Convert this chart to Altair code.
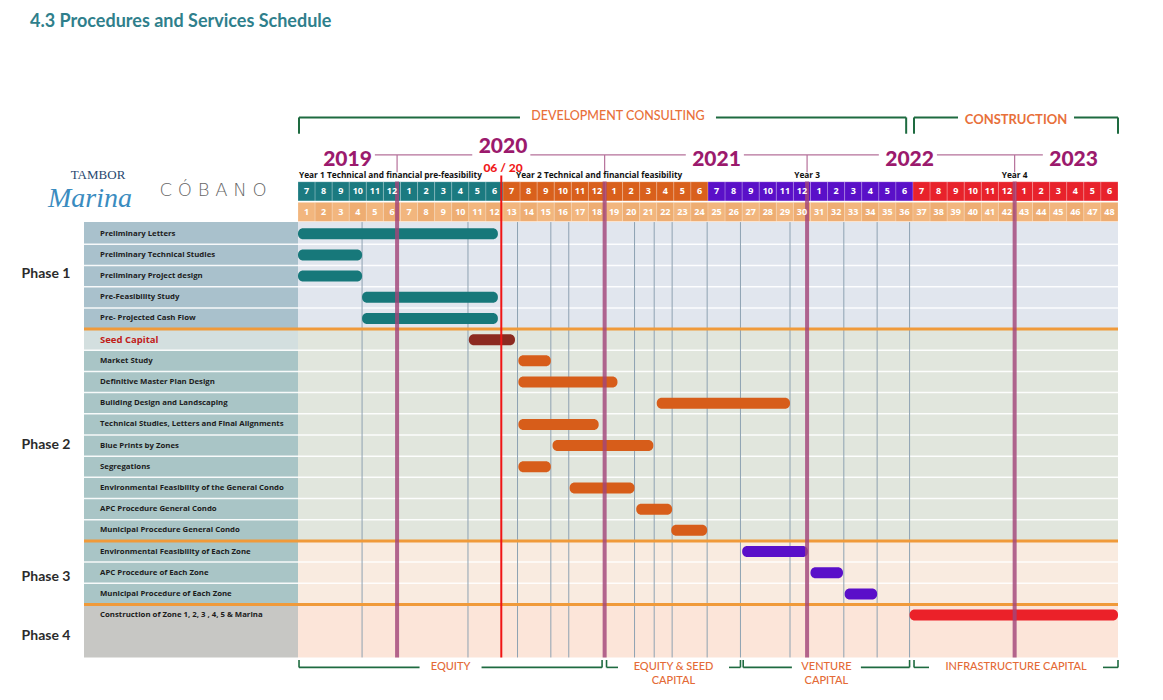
import altair as alt
import pandas as pd

# ---------------- data ----------------
title = "4.3 Procedures and Services Schedule"

tasks = ["Preliminary Letters", "Preliminary Technical Studies", "Preliminary Project design",
         "Pre-Feasibility Study", "Pre- Projected Cash Flow",
         "Seed Capital", "Market Study", "Definitive Master Plan Design",
         "Building Design and Landscaping", "Technical Studies, Letters and Final Alignments",
         "Blue Prints by Zones", "Segregations", "Environmental Feasibility of the General Condo",
         "APC Procedure General Condo", "Municipal Procedure General Condo",
         "Environmental Feasibility of Each Zone", "APC Procedure of Each Zone",
         "Municipal Procedure of Each Zone", "Construction of  Zone 1, 2, 3 , 4, 5 & Marina"]
task_group = ["p1"] * 5 + ["seed"] + ["p2"] * 9 + ["p3"] * 3 + ["p4"]
# month index: 0 = July 2019, 48 = end of June 2023
task_start = [0, 0, 0, 3.75, 3.75, 10, 12.9, 12.9, 21, 12.9, 14.9, 12.9, 15.9, 19.8, 21.85,
              26, 30, 32, 35.8]
task_end = [11.7, 3.75, 3.75, 11.7, 11.7, 12.7, 14.8, 18.7, 28.8, 17.6, 20.8, 14.8, 19.7, 21.9, 23.95,
            29.85, 31.9, 33.9, 48]

phases = ["Phase 1", "Phase 2", "Phase 3", "Phase 4"]

month_labels = [7, 8, 9, 10, 11, 12, 1, 2, 3, 4, 5, 6] * 4
month_numbers = list(range(1, 49))
period_of_month = ["y1"] * 12 + ["y2"] * 12 + ["y3"] * 12 + ["y4"] * 12

years = ["2019", "2020", "2021", "2022", "2023"]
year_label_pos = [2.9, 12.0, 24.5, 35.8, 45.4]
year_boundaries = [5.8, 17.95, 29.8, 41.95]
today_month = 11.9
today_label = "06 / 20"
grid_months = [3.75, 9.95, 12.85, 14.8, 15.85, 19.7, 20.85, 21.9, 23.95, 25.9, 28.8, 31.95, 33.9, 35.8]

subtitles = ["Year 1 Technical and financial pre-feasibility", "Year 2 Technical and financial feasibility",
             "Year 3", "Year 4"]
subtitle_pos = [0.06, 12.76, 29.8, 41.95]

stage_labels = ["DEVELOPMENT CONSULTING", "CONSTRUCTION"]
stage_start = [0, 36]
stage_end = [35.6, 48]

funding_labels = ["EQUITY", "EQUITY & SEED|CAPITAL", "VENTURE|CAPITAL", "INFRASTRUCTURE CAPITAL"]
funding_start = [0, 18, 26, 36]
funding_end = [17.8, 25.9, 35.8, 48]

# ---------------- layout ----------------
PX = 820 / 48.0      # px per month
RH = 21.5            # px per row
XD = [(8 - 298) / PX, (1155 - 298) / PX]
YD = [(8 - 232) / RH, (692 - 232) / RH]
XL = (84 - 298) / PX  # left edge of label column
TOP = -0.55
BOT = 20.0


def X(f):
    return alt.X(f + ":Q", scale=alt.Scale(domain=XD, nice=False, zero=False), axis=None)


def Y(f):
    return alt.Y(f + ":Q", scale=alt.Scale(domain=YD, nice=False, zero=False, reverse=True), axis=None)


C = alt.Color("c:N", scale=None, legend=None)


def rects(rows, **kw):
    df = pd.DataFrame(rows, columns=["x", "x2", "y", "y2", "c"])
    return alt.Chart(df).mark_rect(**kw).encode(x=X("x"), x2="x2:Q", y=Y("y"), y2="y2:Q", color=C)


def rules(rows, **kw):
    df = pd.DataFrame(rows, columns=["x", "x2", "y", "y2", "c"])
    return alt.Chart(df).mark_rule(**kw).encode(x=X("x"), x2="x2:Q", y=Y("y"), y2="y2:Q", color=C)


def texts(rows, **kw):
    kw.setdefault("font", "Lato")
    df = pd.DataFrame(rows, columns=["x", "y", "t", "c"])
    return alt.Chart(df).mark_text(**kw).encode(x=X("x"), y=Y("y"), text="t:N", color=C)


def px_x(p):
    return (p - 298) / PX


def px_y(p):
    return (p - 232) / RH


layers = []

# backgrounds
bg = [
    (XL, 0, TOP, 4.5, "#a9c1cc"), (XL, 0, 4.5, 5.5, "#d3dfdf"), (XL, 0, 5.5, 14.5, "#a9c5c6"),
    (XL, 0, 14.5, 17.5, "#a9c5c6"), (XL, 0, 17.5, BOT, "#c7c7c4"),
    (0, 48, TOP, 4.5, "#e1e6ee"), (0, 48, 4.5, 14.5, "#e1e6dd"),
    (0, 48, 14.5, 17.5, "#f9ebe0"), (0, 48, 17.5, BOT, "#fce5d9"),
]
layers.append(rects(bg))

# white row separators
sep = [(XL, 48, k + 0.5, k + 0.5, "#ffffff") for k in range(18) if k not in (4, 14, 17)]
layers.append(rules(sep, strokeWidth=1.5, opacity=0.9))

# thin vertical grid lines
layers.append(rules([(g, g, TOP, BOT, "#8ea2b2") for g in grid_months], strokeWidth=1))

# orange phase separators
layers.append(rules([(XL, 48, b, b, "#f09a3a") for b in (4.5, 14.5, 17.5)], strokeWidth=3))

# header month cells
pcol = {"y1": "#1b7a80", "y2": "#d9601c", "y3": "#5a10c8", "y4": "#e8222b"}
mc = [(i, i + 1, -2.45, -1.55, pcol[period_of_month[i]]) for i in range(48)]
layers.append(rects(mc, stroke="#ffffff", strokeWidth=0.6, strokeOpacity=0.35))
nc = [(i, i + 1, -1.48, -0.58, "#f2b67e" if i % 2 == 0 else "#eead72") for i in range(48)]
layers.append(rects(nc, stroke="#ffffff", strokeWidth=0.6, strokeOpacity=0.3))

# bars
gcol = {"p1": "#17787a", "seed": "#8c2a20", "p2": "#d75d1a", "p3": "#5a0fc9", "p4": "#eb2129"}
bars = pd.DataFrame({"s": task_start, "e": task_end, "row": list(range(len(tasks))),
                     "c": [gcol[g] for g in task_group]})
layers.append(alt.Chart(bars).mark_bar(size=11, cornerRadius=5).encode(
    x=X("s"), x2="e:Q", y=Y("row"), color=C))

# year boundary lines
layers.append(rules([(b, b, -2.47, BOT, "#a2457a") for b in year_boundaries], strokeWidth=4, opacity=0.82))
layers.append(rules([(b, b, -3.72, -2.9, "#b5709a") for b in year_boundaries], strokeWidth=1.2))
hw = 1.6
yl = [(year_label_pos[i] + hw, year_label_pos[i + 1] - hw - 0.2, -3.72, -3.72, "#b5709a")
      for i in range(len(years) - 1)]
layers.append(rules(yl, strokeWidth=1.2))

# today line
layers.append(rules([(today_month, today_month, -2.75, BOT, "#f01515")], strokeWidth=2))

# header texts
layers.append(texts([(i + 0.5, -2.0, str(month_labels[i]), "#ffffff") for i in range(48)],
                    fontSize=9, fontWeight="bold", font="Open Sans"))
layers.append(texts([(i + 0.5, -1.03, str(month_numbers[i]), "#ffffff") for i in range(48)],
                    fontSize=9, fontWeight="bold", font="Open Sans"))
yrs = [(year_label_pos[i], px_y(144) if years[i] == "2020" else px_y(157), years[i], "#9b1a6d")
       for i in range(5)]
layers.append(texts(yrs, fontSize=21, fontWeight=900))
layers.append(texts([(today_month + 0.1, px_y(165), today_label, "#f01a1a")], fontSize=12, fontWeight=900))
layers.append(texts([(subtitle_pos[i], px_y(173), subtitles[i], "#111111") for i in range(2)],
                    fontSize=8.3, fontWeight="bold", align="left", font="Open Sans"))
layers.append(texts([(subtitle_pos[i], px_y(173), subtitles[i], "#111111") for i in range(2, 4)],
                    fontSize=8.3, fontWeight="bold", font="Open Sans"))

# top brackets
GREEN = "#1e6b40"
ty, tb = -5.49, -4.72
top_rules, top_txt = [], []
for lab, s, e in zip(stage_labels, stage_start, stage_end):
    s0, e0 = s + 0.06, e
    mid = (s0 + e0) / 2 + (0.9 if lab.startswith("DEV") else 0)
    gap = len(lab) * (8.0 / PX) / 2 + 10 / PX
    top_rules += [(s0, mid - gap, ty, ty, GREEN), (mid + gap, e0, ty, ty, GREEN),
                  (s0, s0, ty, tb, GREEN), (e0, e0, ty, tb, GREEN)]
    top_txt.append((mid, ty - 0.05 if lab.startswith("DEV") else ty + 0.12, lab, "#e8703a"))
layers.append(rules(top_rules, strokeWidth=2))
layers.append(texts(top_txt[:1], fontSize=12.5, fontWeight=500))
layers.append(texts(top_txt[1:], fontSize=13, fontWeight="bold"))

# bottom brackets
by, bt = 20.47, 20.12
bot_rules, bot_txt = [], []
for lab, s, e in zip(funding_labels, funding_start, funding_end):
    s0, e0 = s + 0.06, e
    parts = lab.split("|")
    mid = (s0 + e0) / 2
    gap = len(parts[0]) * (7.0 / PX) / 2 + 10 / PX
    bot_rules += [(s0, mid - gap, by, by, GREEN), (mid + gap, e0, by, by, GREEN),
                  (s0, s0, bt, by, GREEN), (e0, e0, bt, by, GREEN)]
    for k, p in enumerate(parts):
        bot_txt.append((mid, by + k * 0.66, p, "#e46a36"))
layers.append(rules(bot_rules, strokeWidth=1.6))
layers.append(texts(bot_txt, fontSize=11, fontWeight=500))

# task labels
tl = [(px_x(100), i, tasks[i], "#1c1c1c") for i in range(len(tasks)) if task_group[i] != "seed"]
layers.append(texts(tl, fontSize=7.8, fontWeight="bold", align="left", font="Open Sans"))
sl = [(px_x(100), i, tasks[i], "#c0201a") for i in range(len(tasks)) if task_group[i] == "seed"]
layers.append(texts(sl, fontSize=9.5, fontWeight="bold", align="left", font="Open Sans"))

# phase labels
prow = [1.9, 9.95, 16.2, 19.0]
layers.append(texts([(px_x(46), prow[i], phases[i], "#2b2b2b") for i in range(4)],
                    fontSize=14, fontWeight="bold"))

# title
layers.append(texts([(px_x(30), px_y(17), title, "#2f7f8c")],
                    fontSize=18, fontWeight="bold", align="left"))

# logos (as text)
layers.append(texts([(px_x(98), px_y(172), "TAMBOR", "#27476f")],
                    fontSize=13, font="Liberation Serif"))
layers.append(texts([(px_x(90), px_y(197), "Marina", "#3a8cc0")],
                    fontSize=28, font="Liberation Serif", fontStyle="italic"))
layers.append(texts([(px_x(213), px_y(189), "C Ó B A N O", "#666666")],
                    fontSize=18, font="DejaVu Sans", fontWeight=200))

chart = alt.layer(*layers).properties(
    width=1147, height=684, padding=0, autosize=alt.AutoSizeParams(type="none")
).configure_view(stroke=None)

chart.save("out.html", embed_options={"renderer": "svg", "actions": False})
